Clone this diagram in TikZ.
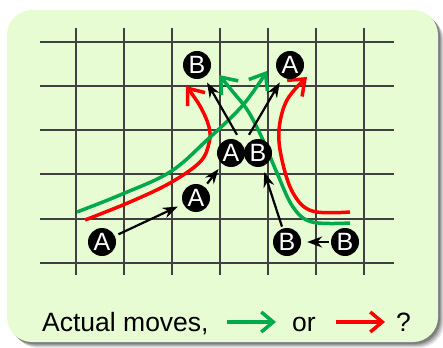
\documentclass[tikz,border=0pt]{standalone}
\usepackage{fontspec}
\setmainfont{Liberation Sans}
\usetikzlibrary{arrows.meta}
\definecolor{bgfill}{RGB}{232,252,212}
\definecolor{gridc}{RGB}{64,64,64}
\definecolor{mygreen}{RGB}{0,170,75}
\definecolor{myred}{RGB}{255,0,0}
\tikzset{
  stone/.style={circle,fill=black,minimum size=28pt,inner sep=0pt,text=white,font=\fontsize{25}{25}\selectfont},
  gridline/.style={gridc,line width=2.5pt},
  move/.style={line width=2.2pt,shorten >=6pt,-{Stealth[length=15pt,width=11pt,inset=5pt]}},
  curvy/.style={line width=3.5pt,-{Straight Barb[length=14pt,width=22pt]}},
  legarrow/.style={line width=3.5pt,-{Straight Barb[length=12pt,width=20pt]}},
  legtext/.style={anchor=base west,inner sep=0pt,font=\fontsize{26.5}{26.5}\selectfont},
}
\begin{document}
\begin{tikzpicture}[x=1pt,y=-1pt]
\useasboundingbox (0,0) rectangle (443,347);
% shadow
\foreach \o/\op in {6/0.08,5/0.1,4/0.12,3/0.15,2/0.2}{
  \fill[black,opacity=\op,rounded corners=25pt] (7+\o,10+\o) rectangle (438+\o,342+\o);
}
\fill[bgfill,rounded corners=25pt] (7,10) rectangle (438,342);
% grid
\foreach \y in {42,86,130,174,219,263}{
  \draw[gridline] (40,\y) -- (394,\y);
}
\foreach \x in {76,124,172,220,268,316,364}{
  \draw[gridline] (\x,28) -- (\x,275);
}
% curves
\draw[curvy,myred] plot[smooth,tension=0.6] coordinates {(85,220) (130,202) (170,183) (200,162) (209,143) (209,127) (200,106) (186,86)};
\draw[curvy,mygreen] plot[smooth,tension=0.6] coordinates {(77,212) (120,195) (170,172) (207,140) (243,105) (267,71)};
\draw[curvy,myred] plot[smooth,tension=0.6] coordinates {(350,212) (312,211) (293,193) (282,160) (279,130) (287,100) (307,77)};
\draw[curvy,mygreen] plot[smooth,tension=0.6] coordinates {(350,223) (312,222) (293,207) (277,173) (263,140) (248,111) (233,92) (219,75)};
% stones
\node[stone] (a1) at (102,242) {A};
\node[stone] (a2) at (196,198) {A};
\node[stone] (a3) at (231,153) {A};
\node[stone] (b3) at (258,153) {B};
\node[stone] (bt) at (197,65) {B};
\node[stone] (at) at (290,65) {A};
\node[stone] (br1) at (287,242) {B};
\node[stone] (br2) at (345,242) {B};
% moves
\draw[move,shorten <=4pt] (a1) -- (a2);
\draw[move,shorten <=4pt] (a2) -- (a3);
\draw[move] (a3.north) ++(6,-4) -- (bt);
\draw[move] (b3.north) ++(-9,-4) -- (at);
\draw[move,shorten <=2pt] (br1) -- (b3);
\draw[move,shorten <=2pt] (br2) -- (br1);
% legend
\node[legtext] (t1) at (42,331) {Actual moves,};
\coordinate (g1) at (227,322);
\coordinate (g2) at (276,322);
\draw[legarrow,mygreen] (g1) -- (g2);
\node[legtext] (t2) at (292,331) {or};
\coordinate (r1) at (336,322);
\coordinate (r2) at (385,322);
\draw[legarrow,myred] (r1) -- (r2);
\node[legtext] (t3) at (396,331) {?};
\end{tikzpicture}
\end{document}
